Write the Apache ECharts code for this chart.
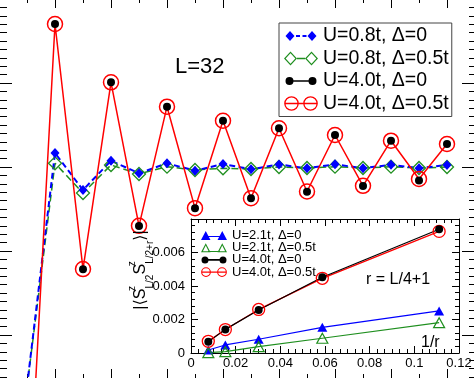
<!DOCTYPE html>
<html><head><meta charset="utf-8">
<script src="https://cdn.jsdelivr.net/npm/echarts@6/dist/echarts.min.js"></script>
<style>html,body{margin:0;padding:0;background:#fff}#c{width:474px;height:378px}</style>
</head><body><div id="c"></div>
<script>
// ---- main plot data (distance r, correlation) ----
const distR   = [1, 2, 3, 4, 5, 6, 7, 8, 9, 10, 11, 12, 13, 14, 15, 16];
const u08d0   = [-0.261, 0.0167, -0.0274, 0.0075, -0.0075, 0.0044, -0.0044, 0.0036, -0.0027, 0.0030, -0.0015, 0.0032, -0.0015, 0.0027, -0.0015, 0.0024];
const u08d05  = [-0.262, 0.0044, -0.0310, 0.0024, -0.0083, 0.0004, -0.0036, -0.0015, -0.0024, 0.0000, -0.0012, 0.0004, -0.0012, 0.0004, -0.0012, 0.0000];
const u40d0   = [-0.446, 0.1702, -0.1218, 0.1008, -0.0702, 0.0718, -0.0492, 0.0551, -0.0373, 0.0461, -0.0294, 0.0381, -0.0226, 0.0313, -0.0161, 0.0274];
const u40d05  = [-0.446, 0.1702, -0.1215, 0.1008, -0.0700, 0.0718, -0.0490, 0.0551, -0.0372, 0.0461, -0.0292, 0.0381, -0.0224, 0.0313, -0.0143, 0.0274];
const mainNames = ['U=0.8t, \u0394=0', 'U=0.8t, \u0394=0.5t', 'U=4.0t, \u0394=0', 'U=4.0t, \u0394=0.5t'];
// ---- inset data (1/r, |<Sz Sz>|) ----
const invR    = [0.00775, 0.01538, 0.0303, 0.0588, 0.1111];
const in21d0  = [0.00018, 0.00048, 0.00082, 0.00153, 0.00251];
const in21d05 = [0.00002, 0.00008, 0.00038, 0.00088, 0.00181];
const in40d0  = [0.00067, 0.00141, 0.00257, 0.00452, 0.00739];
const in40d05 = [0.00070, 0.00140, 0.00260, 0.00446, 0.00726];
const insetNames = ['U=2.1t, \u0394=0', 'U=2.1t, \u0394=0.5t', 'U=4.0t, \u0394=0', 'U=4.0t, \u0394=0.5t'];
const labelL = 'L=32';
const labelR = 'r = L/4+1';
const labelInvR = '1/r';

const FONT = "'Liberation Sans', Arial, Helvetica, 'DejaVu Sans', sans-serif";
const BLUE = '#0000ff', GREEN = '#1f8f1f', RED = '#ff0000', BLACK = '#000000';
const CLEAR = 'rgba(255,255,255,0)';

function pairs(xs, ys) { return xs.map((x, i) => [x, ys[i]]); }

// --- legend icon path helpers ---
function bbox(w, h) { return `M0 0 L0 0 M${w} ${h} L${w} ${h} `; }
function rect(x, y, w, h, rev) {
  return rev ? `M${x} ${y} L${x} ${y+h} L${x+w} ${y+h} L${x+w} ${y} Z `
             : `M${x} ${y} L${x+w} ${y} L${x+w} ${y+h} L${x} ${y+h} Z `;
}
function diamond(cx, cy, hw, hh, rev) {
  return rev ? `M${cx} ${cy-hh} L${cx-hw} ${cy} L${cx} ${cy+hh} L${cx+hw} ${cy} Z `
             : `M${cx} ${cy-hh} L${cx+hw} ${cy} L${cx} ${cy+hh} L${cx-hw} ${cy} Z `;
}
function tri(x0, y0, w, h, rev) {
  const a = [x0 + w / 2, y0], b = [x0 + w, y0 + h], c = [x0, y0 + h];
  return rev ? `M${a[0]} ${a[1]} L${c[0]} ${c[1]} L${b[0]} ${b[1]} Z `
             : `M${a[0]} ${a[1]} L${b[0]} ${b[1]} L${c[0]} ${c[1]} Z `;
}
function circ(cx, cy, r, rev) {
  const s = rev ? 0 : 1;
  return `M${cx-r} ${cy} A${r} ${r} 0 1 ${s} ${cx+r} ${cy} A${r} ${r} 0 1 ${s} ${cx-r} ${cy} Z `;
}
function ring(cx, cy, r, t) { return circ(cx, cy, r, false) + circ(cx, cy, r - t, true); }
function hollowDiamond(cx, cy, hw, hh, t) { return diamond(cx, cy, hw, hh, false) + diamond(cx, cy, hw - t * 1.4, hh - t * 1.4, true); }
function hollowTri(x0, y0, w, h, t) { return tri(x0, y0, w, h, false) + tri(x0 + t * 1.9, y0 + t * 2.3, w - t * 3.8, h - t * 3.3, true); }

const mainIcons = [
  'path://' + bbox(34, 16) + diamond(6, 8, 4.5, 5) + diamond(28, 8, 4.5, 5) + rect(12, 7, 4, 2) + rect(18.5, 7, 4, 2),
  'path://' + bbox(34, 16) + hollowDiamond(6.5, 8, 6.5, 7, 1.2) + hollowDiamond(27.5, 8, 6.5, 7, 1.2) + rect(13, 7.3, 8, 1.4),
  'path://' + bbox(34, 16) + circ(5.5, 8, 4) + circ(28.5, 8, 4) + rect(5.5, 7.2, 23, 1.6),
  'path://' + bbox(34, 16) + ring(7.5, 8, 7.3, 1.3) + ring(26.5, 8, 7.3, 1.3) + rect(0.2, 7.3, 33.6, 1.4)
];
const insetIcons = [
  'path://' + bbox(26, 10) + tri(0, 0.5, 9.5, 9) + tri(16.5, 0.5, 9.5, 9) + rect(5, 5.4, 16, 1.2),
  'path://' + bbox(26, 10) + hollowTri(0, 0.5, 9.5, 9, 1.0) + hollowTri(16.5, 0.5, 9.5, 9, 1.0) + rect(7, 8.3, 12, 1.1),
  'path://' + bbox(26, 10) + circ(4, 5, 3.5) + circ(22, 5, 3.5) + rect(4, 4.2, 18, 1.6),
  'path://' + bbox(26, 10) + ring(5, 5, 4.9, 1.1) + ring(21, 5, 4.9, 1.1) + rect(0.2, 4.4, 25.6, 1.2)
];
const mainColors = [BLUE, GREEN, BLACK, RED];
const insetColors = [BLUE, GREEN, BLACK, RED];

const chart = echarts.init(document.getElementById('c'), null, {renderer: 'canvas'});

const tickStyle = {color: '#000', width: 1};
function mainX(gridIndex, offset, majorLen, minorLen) {
  return {
    gridIndex: gridIndex, type: 'value', position: 'bottom', offset: offset, min: 0, max: 17, interval: 2,
    axisLine: {show: false, onZero: false}, axisLabel: {show: false}, splitLine: {show: false},
    axisTick: {show: majorLen > 0, inside: true, length: majorLen, lineStyle: tickStyle},
    minorTick: {show: minorLen > 0, splitNumber: 2, length: minorLen, lineStyle: tickStyle}
  };
}
// top frame ticks drawn as grid split lines of thin strips along the top edge
function stripX(gridIndex, major) {
  return {
    gridIndex: gridIndex, type: 'value', position: 'bottom', min: 0, max: 17, interval: 2,
    axisLine: {show: false, onZero: false}, axisLabel: {show: false},
    axisTick: {show: false}, minorTick: {show: false, splitNumber: 2},
    splitLine: {show: major, lineStyle: tickStyle},
    minorSplitLine: {show: !major, lineStyle: tickStyle}
  };
}
function stripY(gridIndex) {
  return {gridIndex: gridIndex, type: 'value', min: 0, max: 1, show: false};
}
function mainY(pos, majorLen, minorLen) {
  return {
    gridIndex: 0, type: 'value', position: pos, min: -0.3, max: 0.203571, interval: 0.1,
    axisLine: {show: false, onZero: false}, axisLabel: {show: false}, splitLine: {show: false},
    axisTick: {show: true, inside: true, length: majorLen, lineStyle: tickStyle},
    minorTick: {show: true, splitNumber: 10, length: minorLen, lineStyle: tickStyle}
  };
}
function insetX(pos, labels) {
  return {
    gridIndex: 1, type: 'value', position: pos, min: 0, max: 0.12, interval: 0.02,
    axisLine: {show: true, onZero: false, lineStyle: {color: '#000', width: 1}},
    axisLabel: {show: labels, color: '#000', fontSize: 13, fontFamily: FONT, margin: 4},
    splitLine: {show: false},
    axisTick: {show: true, inside: true, length: 7, lineStyle: tickStyle},
    minorTick: {show: true, splitNumber: 6, length: 4, lineStyle: tickStyle}
  };
}
function insetY(pos, labels) {
  return {
    gridIndex: 1, type: 'value', position: pos, min: 0, max: 0.008, interval: 0.002,
    axisLine: {show: true, onZero: false, lineStyle: {color: '#000', width: 1}},
    axisLabel: {show: labels, color: '#000', fontSize: 13, fontFamily: FONT, margin: 6, showMaxLabel: false},
    splitLine: {show: false},
    axisTick: {show: true, inside: true, length: 7, lineStyle: tickStyle},
    minorTick: {show: true, splitNumber: 5, length: 4, lineStyle: tickStyle}
  };
}

const common = {type: 'line', animation: false, emphasis: {disabled: true}, silent: true};
function emptyOn(xi, yi) {
  return Object.assign({}, common, {name: '_frame' + xi, xAxisIndex: xi, yAxisIndex: yi, data: [], symbol: 'none'});
}

const option = {
  backgroundColor: '#fff',
  animation: false,
  grid: [
    {left: -1, top: -4, width: 476, height: 423, containLabel: false, outerBoundsMode: 'none'},
    {left: 191, top: 219, width: 268, height: 134, show: true, backgroundColor: '#fff', borderWidth: 0, containLabel: false, outerBoundsMode: 'none'},
    {left: -1, top: 0, width: 476, height: 8, containLabel: false, outerBoundsMode: 'none'},
    {left: -1, top: 0, width: 476, height: 3, containLabel: false, outerBoundsMode: 'none'}
  ],
  xAxis: [
    mainX(0, -38, 12, 7),        // 0: bottom frame ticks
    insetX('bottom', true),      // 1
    insetX('top', false),        // 2
    mainX(0, -411, 12, 0),       // 3: top frame major ticks
    mainX(0, -416, 0, 7),        // 4: top frame minor ticks
    stripX(2, true),             // 5: top frame major ticks (split lines)
    stripX(3, false)             // 6: top frame minor ticks (minor split lines)
  ],
  yAxis: [mainY('left', 13, 8), mainY('right', 13, 6), insetY('left', true), insetY('right', false),
          stripY(2), stripY(3)],
  legend: [
    {
      orient: 'vertical', left: 279, top: 23, padding: [2, 3, 2, 5],
      itemWidth: 34, itemHeight: 16, itemGap: 0.5,
      borderColor: '#444', borderWidth: 1, backgroundColor: '#fff',
      selectedMode: false,
      textStyle: {color: '#000', fontSize: 19.5, lineHeight: 22, fontFamily: FONT},
      data: mainNames.map((n, i) => ({name: n, icon: mainIcons[i], itemStyle: {color: mainColors[i], borderWidth: 0, opacity: 1}}))
    },
    {
      orient: 'vertical', left: 201, top: 229, padding: 0,
      itemWidth: 26, itemHeight: 10, itemGap: -0.8,
      selectedMode: false,
      textStyle: {color: '#000', fontSize: 13, lineHeight: 9, fontFamily: FONT},
      data: insetNames.map((n, i) => ({name: n, icon: insetIcons[i], itemStyle: {color: insetColors[i], borderWidth: 0, opacity: 1}}))
    }
  ],
  series: [
    Object.assign({}, common, {
      name: mainNames[1], xAxisIndex: 0, yAxisIndex: 0, data: pairs(distR, u08d05),
      symbol: 'diamond', symbolSize: 13,
      itemStyle: {color: CLEAR, borderColor: GREEN, borderWidth: 1.3},
      lineStyle: {color: GREEN, width: 1.5, type: [7, 4]}
    }),
    Object.assign({}, common, {
      name: mainNames[0], xAxisIndex: 0, yAxisIndex: 0, data: pairs(distR, u08d0),
      symbol: 'diamond', symbolSize: [9, 10],
      itemStyle: {color: BLUE, borderWidth: 0},
      lineStyle: {color: BLUE, width: 2, type: [6, 3.5]}
    }),
    Object.assign({}, common, {
      name: mainNames[3], xAxisIndex: 0, yAxisIndex: 0, data: pairs(distR, u40d05),
      symbol: 'circle', symbolSize: 15,
      itemStyle: {color: CLEAR, borderColor: RED, borderWidth: 1.5},
      lineStyle: {color: RED, width: 1.5}
    }),
    Object.assign({}, common, {
      name: mainNames[2], xAxisIndex: 0, yAxisIndex: 0, data: pairs(distR, u40d0),
      symbol: 'circle', symbolSize: 8,
      itemStyle: {color: BLACK, borderWidth: 0},
      lineStyle: {color: BLACK, width: 1, opacity: 0}
    }),
    // inset
    Object.assign({}, common, {
      name: insetNames[0], xAxisIndex: 1, yAxisIndex: 2, data: pairs(invR, in21d0),
      symbol: 'triangle', symbolSize: [10, 9],
      itemStyle: {color: BLUE, borderWidth: 0},
      lineStyle: {color: BLUE, width: 1.2}
    }),
    Object.assign({}, common, {
      name: insetNames[1], xAxisIndex: 1, yAxisIndex: 2, data: pairs(invR, in21d05),
      symbol: 'triangle', symbolSize: [11, 10],
      itemStyle: {color: CLEAR, borderColor: GREEN, borderWidth: 1.2},
      lineStyle: {color: GREEN, width: 1.2}
    }),
    Object.assign({}, common, {
      name: insetNames[3], xAxisIndex: 1, yAxisIndex: 2, data: pairs(invR, in40d05),
      symbol: 'circle', symbolSize: 12,
      itemStyle: {color: CLEAR, borderColor: RED, borderWidth: 1.3},
      lineStyle: {color: RED, width: 1.3}
    }),
    Object.assign({}, common, {
      name: insetNames[2], xAxisIndex: 1, yAxisIndex: 2, data: pairs(invR, in40d0),
      symbol: 'circle', symbolSize: 8,
      itemStyle: {color: BLACK, borderWidth: 0},
      lineStyle: {color: BLACK, width: 1.2}
    }),
    // empty series binding the frame-only axes
    emptyOn(3, 0), emptyOn(4, 0), emptyOn(5, 4), emptyOn(6, 5)
  ],
  graphic: [
    {type: 'text', left: 175, top: 56, silent: true,
     style: {text: labelL, fontSize: 22, fontFamily: FONT, fill: '#000'}},
    {type: 'text', left: 366, top: 272, silent: true, z: 100,
     style: {text: labelR, fontSize: 16, fontFamily: FONT, fill: '#000'}},
    {type: 'text', left: 421, top: 335, silent: true, z: 100,
     style: {text: labelInvR, fontSize: 16, fontFamily: FONT, fill: '#000'}},
    {type: 'text', x: 141, y: 270, rotation: Math.PI / 2, silent: true, z: 100,
     style: {
       text: '{b|\u007C\u27E8S}{sp|z}{sb|L/2}{b|S}{sp|z}{sb|L/2+r}{b|\u27E9\u007C}',
       align: 'center', verticalAlign: 'middle', fill: '#000',
       rich: {
         b: {fontSize: 16, lineHeight: 28, fontFamily: FONT, fill: '#000'},
         sp: {fontSize: 10, lineHeight: 14, verticalAlign: 'top', fontFamily: FONT, fill: '#000', width: 0.1},
         sb: {fontSize: 10, lineHeight: 12, verticalAlign: 'bottom', fontFamily: FONT, fill: '#000'}
       }
     }}
  ]
};
chart.setOption(option);
</script>
</body></html>
